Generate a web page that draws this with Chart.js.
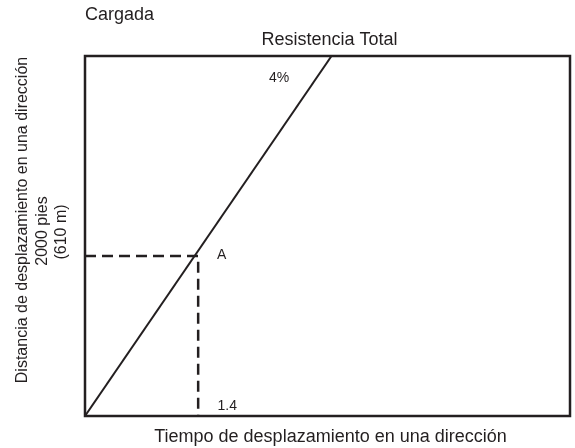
<!DOCTYPE html>
<html>
<head>
<meta charset="utf-8">
<script src="https://cdn.jsdelivr.net/npm/chart.js@4"></script>
<style>
  html, body { margin: 0; padding: 0; background: #fff; }
  #wrap { width: 575px; height: 448px; }
</style>
</head>
<body>
<div id="wrap"><canvas id="chart" width="575" height="448"></canvas></div>
<script>
// Travel distance vs travel time — loaded, total resistance 4%.

const lineX = [0, 3.05];
const lineY = [0, 4500];
const guideX = [0, 1.4, 1.4];
const guideY = [2000, 2000, 0];

const xMax = 6;
const yMax = 4500;

// text labels sitting inside the plot, in data units
const notes = [
  { text: '4%', x: 2.4, y: 4225 },
  { text: 'A', x: 1.69, y: 2010 },
  { text: '1.4', x: 1.76, y: 125 },
];

const yTitle = ['Distancia de desplazamiento en una dirección', '2000 pies', '(610 m)'];
const xTitle = 'Tiempo de desplazamiento en una dirección';
const topLeft = 'Cargada';
const topCenter = 'Resistencia Total';

const FONT = '"Liberation Sans", Arial, sans-serif';

const frame = {
  id: 'frame',
  afterDraw(chart) {
    const { ctx, chartArea: a, scales } = chart;
    ctx.save();
    ctx.strokeStyle = '#231f20';
    ctx.lineWidth = 2.5;
    ctx.strokeRect(a.left, a.top, a.right - a.left, a.bottom - a.top);

    ctx.fillStyle = '#231f20';
    ctx.textBaseline = 'middle';
    ctx.textAlign = 'center';
    ctx.font = '14px ' + FONT;
    notes.forEach(n => {
      ctx.fillText(n.text, scales.x.getPixelForValue(n.x), scales.y.getPixelForValue(n.y));
    });

    ctx.font = '18px ' + FONT;
    ctx.textAlign = 'left';
    ctx.fillText(topLeft, a.left, 15);
    ctx.textAlign = 'center';
    ctx.fillText(topCenter, (a.left + a.right) / 2 + 2, 40);
    ctx.fillText(xTitle, (a.left + a.right) / 2 + 3, 437);

    ctx.font = '16px ' + FONT;
    const cols = [23, 43, 62];
    const mids = [220, 231, 232];
    yTitle.forEach((t, i) => {
      ctx.save();
      ctx.translate(cols[i], mids[i]);
      ctx.rotate(-Math.PI / 2);
      ctx.fillText(t, 0, 0);
      ctx.restore();
    });
    ctx.restore();
  }
};

new Chart(document.getElementById('chart'), {
  type: 'line',
  data: {
    datasets: [
      {
        data: lineX.map((x, i) => ({ x, y: lineY[i] })),
        borderColor: '#231f20',
        borderWidth: 2,
        pointRadius: 0,
        tension: 0,
      },
      {
        data: guideX.map((x, i) => ({ x, y: guideY[i] })),
        borderColor: '#231f20',
        borderWidth: 2.5,
        borderDash: [11, 6],
        pointRadius: 0,
        tension: 0,
      },
    ],
  },
  options: {
    responsive: false,
    animation: false,
    layout: { padding: { left: 85, right: 5, top: 56, bottom: 32 } },
    scales: {
      x: { type: 'linear', min: 0, max: xMax, display: false },
      y: { type: 'linear', min: 0, max: yMax, display: false },
    },
    plugins: {
      legend: { display: false },
      tooltip: { enabled: false },
    },
  },
  plugins: [frame],
});
</script>
</body>
</html>
